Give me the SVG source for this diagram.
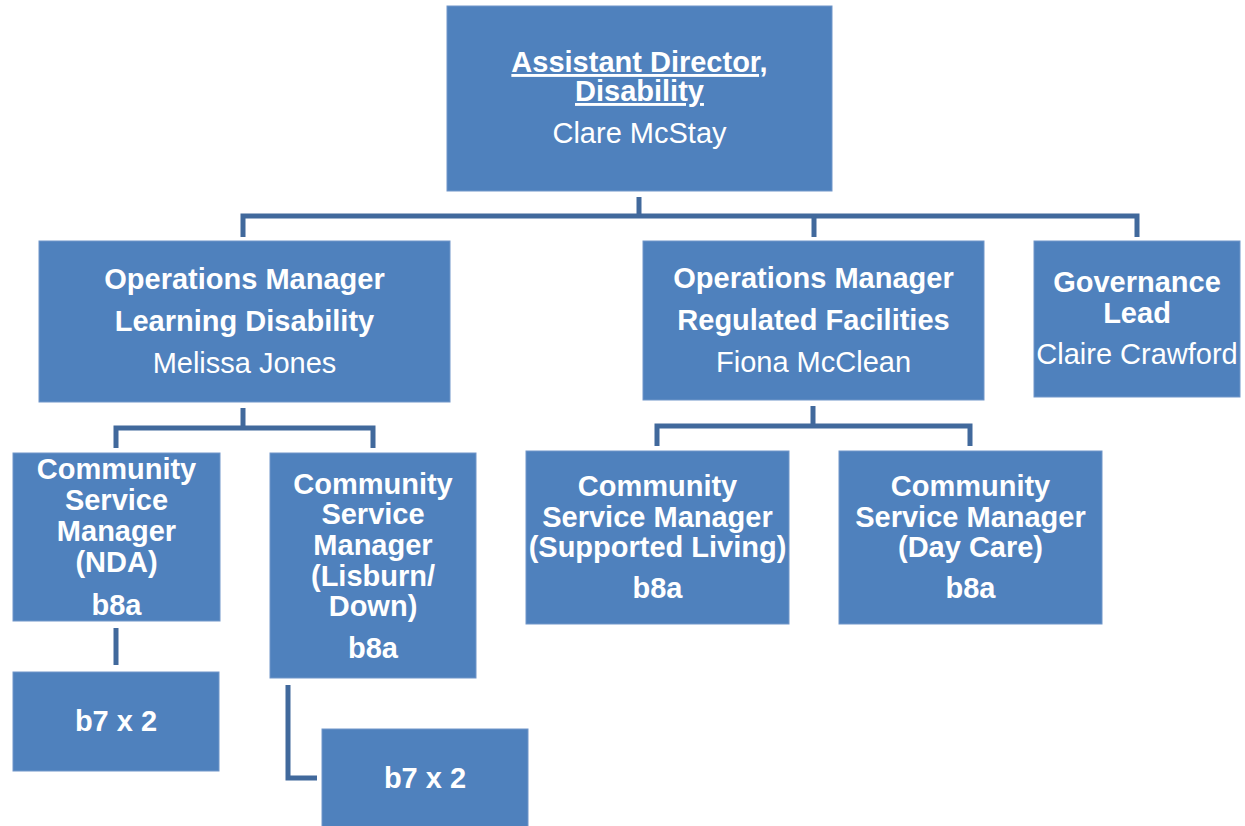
<svg xmlns="http://www.w3.org/2000/svg" width="1245" height="826" viewBox="0 0 1245 826">
<style>
.box{fill:#4F81BD;stroke:#7096C9;stroke-width:1}
.conn{fill:none;stroke:#41699C;stroke-width:5;stroke-linejoin:miter;stroke-linecap:butt}
text{font-family:"Liberation Sans",Arial,sans-serif;font-size:29px;fill:#FFFFFF;text-anchor:middle}
.b{font-weight:bold}
.u{text-decoration:underline}
</style>
<rect width="1245" height="826" fill="#FFFFFF"/>
<g id="connectors">
<path class="conn" d="M639,197 V216"/>
<path class="conn" d="M243,237 V216 H1137 V237"/>
<path class="conn" d="M814,216 V237"/>
<path class="conn" d="M243,408 V428"/>
<path class="conn" d="M116,448 V428 H373 V448"/>
<path class="conn" d="M813,406 V426"/>
<path class="conn" d="M657,446 V426 H970 V446"/>
<path class="conn" d="M116,628 V665"/>
<path class="conn" d="M288,685 V778 H317"/>
</g>
<g id="assistant-director">
<rect class="box" x="447" y="6" width="385" height="185"/>
<text class="b u" x="639.5" y="72">Assistant Director,</text>
<text class="b u" x="639.5" y="101">Disability</text>
<text x="639.5" y="143">Clare McStay</text>
</g>
<g id="om-learning-disability">
<rect class="box" x="39" y="241" width="411" height="161"/>
<text class="b" x="244.5" y="289">Operations Manager</text>
<text class="b" x="244.5" y="331">Learning Disability</text>
<text x="244.5" y="373">Melissa Jones</text>
</g>
<g id="om-regulated-facilities">
<rect class="box" x="643" y="241" width="341" height="159"/>
<text class="b" x="813.5" y="288">Operations Manager</text>
<text class="b" x="813.5" y="330">Regulated Facilities</text>
<text x="813.5" y="372">Fiona McClean</text>
</g>
<g id="governance-lead">
<rect class="box" x="1034" y="241" width="206" height="156"/>
<text class="b" x="1137" y="292">Governance</text>
<text class="b" x="1137" y="323">Lead</text>
<text x="1137" y="364">Claire Crawford</text>
</g>
<g id="csm-nda">
<rect class="box" x="13" y="453" width="207" height="168"/>
<text class="b" x="116.5" y="479">Community</text>
<text class="b" x="116.5" y="510">Service</text>
<text class="b" x="116.5" y="541">Manager</text>
<text class="b" x="116.5" y="572">(NDA)</text>
<text class="b" x="116.5" y="615">b8a</text>
</g>
<g id="csm-lisburn-down">
<rect class="box" x="270" y="453" width="206" height="225"/>
<text class="b" x="373" y="494">Community</text>
<text class="b" x="373" y="524">Service</text>
<text class="b" x="373" y="555">Manager</text>
<text class="b" x="373" y="586">(Lisburn/</text>
<text class="b" x="373" y="616">Down)</text>
<text class="b" x="373" y="658">b8a</text>
</g>
<g id="csm-supported-living">
<rect class="box" x="526" y="451" width="263" height="173"/>
<text class="b" x="657.5" y="496">Community</text>
<text class="b" x="657.5" y="527">Service Manager</text>
<text class="b" x="657.5" y="557">(Supported Living)</text>
<text class="b" x="657.5" y="598">b8a</text>
</g>
<g id="csm-day-care">
<rect class="box" x="839" y="451" width="263" height="173"/>
<text class="b" x="970.5" y="496">Community</text>
<text class="b" x="970.5" y="527">Service Manager</text>
<text class="b" x="970.5" y="557">(Day Care)</text>
<text class="b" x="970.5" y="598">b8a</text>
</g>
<g id="b7-nda">
<rect class="box" x="13" y="672" width="206" height="99"/>
<text class="b" x="116" y="731">b7 x 2</text>
</g>
<g id="b7-lisburn">
<rect class="box" x="322" y="729" width="206" height="98"/>
<text class="b" x="425" y="788">b7 x 2</text>
</g>
</svg>
